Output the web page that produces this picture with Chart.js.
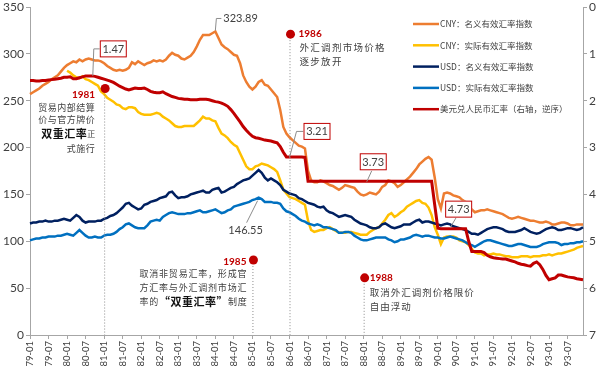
<!DOCTYPE html>
<html>
<head>
<meta charset="utf-8">
<script src="https://cdn.jsdelivr.net/npm/chart.js@4.4.1/dist/chart.umd.min.js"></script>
<style>
  html, body { margin: 0; padding: 0; background: #fff; }
</style>
</head>
<body>
<canvas id="fxChart" width="600" height="370"></canvas>
<script>
// months 1979-01 .. 1993-12, a tick label every 6 months
const months = [];
for (let yr = 79; yr <= 93; yr++) {
  for (let m = 1; m <= 12; m++) months.push(yr + "-" + String(m).padStart(2, "0"));
}
const tickEvery = 6;

const leftTicks = [0, 50, 100, 150, 200, 250, 300, 350];
const rightTicks = [0, 1, 2, 3, 4, 5, 6, 7];

// CNY nominal effective exchange rate index
const cnyNominal = [
  257,259,261,263,266,268,270,273,275,277,281,285,
  288,290,292,291,294,292,294,295,294,293,293,292,
  290,287,285,283,282,283,282,283,285,291,289,292,
  290,288,290,291,293,292,293,292,294,298,301,299,
  298,295,294,296,298,302,308,315,320,320,320,322,
  323.89,317,310,307,305,302,299,298,290,277,270,265,
  262,265,270,272,267,266,262,258,254,240,222,215,
  211,208,205,202,201,199,175,165,163,163,165,164,
  162,160,159,157,155,157,160,159,158,157,153,150,
  149,150,152,151,150,153,158,160,165,164,162,158,
  160,163,166,169,173,177,182,185,188,190,187,168,
  145,135,151,152,151,149,148,147,144,142,137,134,
  131,132,133,133,134,133,132,131,130,129,127,125,
  124,125,126,125,124,123,122,122,121,120,120,121,
  120,118,118,119,120,120,119,117,117,118,118,118
];

// CNY real effective exchange rate index (starts 1980)
const cnyReal = [
  null,null,null,null,null,null,null,null,null,null,null,null,
  282,280,277,275,274,276,273,272,270,268,266,260,
  257,253,251,249,246,245,242,241,243,243,242,238,
  236,235,235,235,236,237,236,233,231,229,226,223,
  222,222,223,223,223,223,226,229,233,231,231,229,
  228,221,215,213,210,206,203,201,194,187,180,177,
  177,180,181,183,182,181,179,177,174,165,155,151,
  147,146,145,143,141,139,122,112,110,111,112,112,
  114,115,113,111,109,109,109,110,110,109,108,107,
  107,107,110,112,114,115,119,123,128,130,126,128,
  131,133,137,139,141,143,144,141,140,136,128,115,
  107,97,104,105,105,105,104,101,100,99,96,92,
  88,87,87,85,86,86,87,86,86,85,84,84,
  83,83,83,84,84,84,83,84,84,84,85,85,
  86,85,86,87,87,88,89,90,91,93,94,95
];

// USD nominal effective exchange rate index
const usdNominal = [
  119,120,120,121,121,122,121,121,122,122,123,124,
  123,122,125,128,126,122,120,121,121,121,122,122,
  124,125,127,128,130,133,136,140,141,138,136,134,
  135,139,140,142,143,144,146,147,148,152,153,149,
  146,147,147,148,150,151,152,153,154,152,152,155,
  156,157,152,153,155,157,158,161,163,165,166,167,
  170,173,176,173,168,165,167,165,163,160,155,153,
  151,150,149,146,145,143,141,140,139,137,136,137,
  133,131,130,128,126,127,128,127,126,123,121,119,
  118,117,115,114,114,115,118,119,117,115,114,115,
  116,118,118,118,120,122,123,120,121,121,120,119,
  118,117,118,119,118,116,115,114,113,112,110,108,
  108,107,109,111,113,114,115,115,114,113,111,110,
  110,110,111,112,114,112,110,109,108,109,111,113,
  114,115,114,112,112,113,114,114,113,112,113,115
];

// USD real effective exchange rate index
const usdReal = [
  101,102,103,103,104,104,105,105,105,106,106,107,
  108,107,106,109,112,109,106,104,104,105,104,104,
  106,107,107,108,110,113,115,118,119,117,115,114,
  114,114,117,121,122,123,122,126,128,130,131,130,
  129,129,129,130,130,131,132,133,131,131,132,133,
  134,132,130,131,133,134,137,138,139,140,141,142,
  144,145,146.55,145,142,142,142,141,141,140,135,132,
  131,129,127,124,122,121,119,118,117,118,117,115,
  115,114,113,112,109,109,110,110,109,106,104,102,
  101,101,102,103,104,104,104,104,102,101,99,100,
  102,102,103,104,106,107,106,105,106,106,105,104,
  104,103,103,104,105,104,103,102,101,99,97,96,
  94,96,98,100,101,101,100,99,98,97,96,95,
  95,96,97,97,96,95,94,94,94,95,97,98,
  99,99,99,98,96,97,97,98,98,99,99,100
];

// USD/CNY (right axis, reversed)
const usdCny = [
  1.57,1.57,1.58,1.58,1.57,1.57,1.56,1.55,1.54,1.53,1.52,1.50,
  1.50,1.49,1.53,1.53,1.51,1.49,1.47,1.47,1.47,1.48,1.50,1.52,
  1.54,1.56,1.58,1.61,1.65,1.69,1.72,1.75,1.77,1.75,1.73,1.74,
  1.74,1.73,1.76,1.80,1.82,1.83,1.83,1.81,1.85,1.88,1.91,1.93,
  1.95,1.96,1.97,1.97,1.98,1.98,1.98,1.97,1.97,1.97,1.98,2.00,
  2.02,2.03,2.05,2.08,2.12,2.19,2.27,2.36,2.45,2.55,2.63,2.70,
  2.76,2.79,2.80,2.82,2.84,2.85,2.86,2.88,2.90,2.98,3.10,3.20,
  3.20,3.20,3.20,3.20,3.20,3.21,3.72,3.72,3.72,3.72,3.72,3.72,
  3.72,3.72,3.72,3.72,3.72,3.72,3.72,3.72,3.72,3.72,3.72,3.72,
  3.72,3.72,3.72,3.72,3.72,3.72,3.72,3.72,3.72,3.72,3.72,3.72,
  3.72,3.72,3.72,3.72,3.72,3.72,3.72,3.72,3.72,3.72,3.72,4.22,
  4.72,4.73,4.73,4.73,4.73,4.73,4.73,4.73,4.73,4.73,5.00,5.22,
  5.22,5.22,5.22,5.24,5.30,5.33,5.35,5.36,5.37,5.38,5.38,5.40,
  5.42,5.44,5.47,5.49,5.50,5.52,5.53,5.47,5.44,5.50,5.60,5.73,
  5.82,5.80,5.78,5.72,5.72,5.74,5.76,5.77,5.78,5.80,5.81,5.82
];

const seriesNames = [
  "CNY：名义有效汇率指数",
  "CNY：实际有效汇率指数",
  "USD：名义有效汇率指数",
  "USD：实际有效汇率指数",
  "美元兑人民币汇率（右轴，逆序）"
];
const seriesColors = ["#ED7D31", "#FFC000", "#002060", "#0070C0", "#C00000"];

const NUM_FONT = '"Lato", "Liberation Sans", sans-serif';
const CJK_FONT = '"Noto Sans CJK SC", sans-serif';
const TEXT_COLOR = "#404040";
const AXIS_COLOR = "#a6a6a6";

// draw a line of text made of several styled pieces
function drawRich(ctx, segs, x, y, align) {
  let total = 0;
  segs.forEach(s => {
    ctx.font = s.font;
    ctx.letterSpacing = s.sp || "0px";
    s.w = ctx.measureText(s.t).width;
    total += s.w;
  });
  let cx = align === "right" ? x - total : x;
  ctx.textAlign = "left";
  segs.forEach(s => {
    ctx.font = s.font;
    ctx.letterSpacing = s.sp || "0px";
    ctx.fillStyle = s.color || TEXT_COLOR;
    ctx.fillText(s.t, cx, y);
    cx += s.w;
  });
  ctx.letterSpacing = "0px";
}

const note = (t, size, sp) => ({ t, font: (size || 9) + "px " + CJK_FONT, sp: sp || "1px" });
const strong = (t, size) => ({ t, font: "bold " + (size || 11) + "px " + CJK_FONT, color: "#111", sp: "0.5px" });

const annotPlugin = {
  id: "annot",
  afterDatasetsDraw(chart) {
    const { ctx, chartArea, scales } = chart;
    const xs = scales.x, yl = scales.y, yr = scales.y1;
    const px = i => xs.getPixelForValue(i);
    ctx.save();
    ctx.textBaseline = "middle";

    // event markers: dot + dotted drop line
    const marker = (idx, val) => {
      const x = px(idx), y = yl.getPixelForValue(val);
      ctx.strokeStyle = "#8c8c8c";
      ctx.lineWidth = 1;
      ctx.setLineDash([1, 2]);
      ctx.beginPath();
      ctx.moveTo(x + 0.5, y);
      ctx.lineTo(x + 0.5, chartArea.bottom);
      ctx.stroke();
      ctx.setLineDash([]);
      ctx.fillStyle = "#C00000";
      ctx.beginPath();
      ctx.arc(x + 1, y, 4.5, 0, Math.PI * 2);
      ctx.fill();
      return { x, y };
    };
    const year = (t, x, y, align) => {
      ctx.font = "bold 10px " + NUM_FONT;
      ctx.fillStyle = "#C00000";
      ctx.textAlign = align;
      ctx.fillText(t, x, y);
    };

    // 1981
    let p = marker(24, 263);
    year("1981", p.x - 9, p.y + 6, "right");
    drawRich(ctx, [note("贸易内部结算", 9, "0.5px")], p.x - 9, p.y + 19, "right");
    drawRich(ctx, [note("价与官方牌价", 9, "0.5px")], p.x - 9, p.y + 31, "right");
    drawRich(ctx, [strong("双重汇率", 11), note("正", 8, "0px")], p.x - 9, p.y + 45, "right");
    drawRich(ctx, [note("式施行", 9, "0.5px")], p.x - 9, p.y + 60, "right");

    // 1986
    p = marker(84, 321);
    year("1986", p.x + 9, p.y, "left");
    drawRich(ctx, [note("外汇调剂市场价格", 9.5, "1.3px")], p.x + 10, p.y + 13, "left");
    drawRich(ctx, [note("逐步放开", 9.5, "1.3px")], p.x + 10, p.y + 27, "left");

    // 1985
    p = marker(72, 80);
    year("1985", p.x - 6, p.y + 2, "right");
    drawRich(ctx, [note("取消非贸易汇率，形成官", 9, "0.8px")], p.x - 113, p.y + 14, "left");
    drawRich(ctx, [note("方汇率与外汇调剂市场汇", 9, "0.8px")], p.x - 113, p.y + 28, "left");
    drawRich(ctx, [note("率的", 9, "0.8px"), strong("“双重汇率”", 11), note("制度", 9, "0.8px")], p.x - 113, p.y + 42, "left");

    // 1988
    p = marker(108, 61);
    year("1988", p.x + 6, p.y, "left");
    drawRich(ctx, [note("取消外汇调剂价格限价", 9.5, "1px")], p.x + 6, p.y + 15, "left");
    drawRich(ctx, [note("自由浮动", 9.5, "1px")], p.x + 6, p.y + 29, "left");

    // callouts
    ctx.strokeStyle = "#8c8c8c";
    ctx.lineWidth = 1;
    const lead = pts => {
      ctx.beginPath();
      ctx.moveTo(pts[0][0], pts[0][1]);
      pts.slice(1).forEach(q => ctx.lineTo(q[0], q[1]));
      ctx.stroke();
    };
    const box = (t, left, cy) => {
      const w = 27, h = 17;
      ctx.fillStyle = "#fff";
      ctx.fillRect(left, cy - h / 2, w, h);
      ctx.strokeStyle = "#C00000";
      ctx.strokeRect(left + 0.5, cy - h / 2 + 0.5, w - 1, h - 1);
      ctx.strokeStyle = "#8c8c8c";
      ctx.fillStyle = TEXT_COLOR;
      ctx.font = "11px " + NUM_FONT;
      ctx.textAlign = "center";
      ctx.fillText(t, left + w / 2, cy + 0.5);
    };
    const label = (t, x, y, align) => {
      ctx.fillStyle = TEXT_COLOR;
      ctx.font = "11px " + NUM_FONT;
      ctx.textAlign = align;
      ctx.fillText(t, x, y);
    };

    // 1.47 (lowest USD/CNY)
    let ax = px(20), ay = yr.getPixelForValue(usdCny[20]);
    lead([[ax + 1, ay], [ax + 2, ay - 27], [ax + 8, ay - 27]]);
    box(usdCny[20].toFixed(2), ax + 8, ay - 27);

    // 323.89 (CNY nominal peak)
    ax = px(60); ay = yl.getPixelForValue(cnyNominal[60]);
    lead([[ax, ay - 1], [ax + 1, ay - 13], [ax + 6, ay - 13]]);
    label(cnyNominal[60].toFixed(2), ax + 8, ay - 13, "left");

    // 146.55 (USD real peak)
    ax = px(74); ay = yl.getPixelForValue(usdReal[74]);
    lead([[ax - 1, ay + 3], [ax - 12, ay + 25]]);
    label(usdReal[74].toFixed(2), ax - 13, ay + 33, "center");

    // 3.21
    ax = px(84); ay = yr.getPixelForValue(usdCny[89]);
    lead([[ax, ay], [ax + 7, ay - 26], [ax + 14, ay - 26]]);
    box(usdCny[89].toFixed(2), ax + 14, ay - 26);

    // 3.73
    ax = px(109); ay = yr.getPixelForValue(3.73);
    lead([[ax, ay], [ax + 5, ay - 11]]);
    box("3.73", ax - 7, ay - 20);

    // 4.73
    ax = px(136); ay = yr.getPixelForValue(usdCny[136]);
    lead([[ax, ay - 1], [ax + 6, ay - 11]]);
    box(usdCny[136].toFixed(2), ax - 5, ay - 19.5);

    ctx.restore();
  },
  afterDraw(chart) {
    // legend block, top right
    const ctx = chart.ctx;
    ctx.save();
    ctx.textBaseline = "middle";
    chart.data.datasets.forEach((ds, k) => {
      const y = 24 + k * 21.3;
      ctx.strokeStyle = ds.borderColor;
      ctx.lineWidth = 2.5;
      ctx.beginPath();
      ctx.moveTo(413, y);
      ctx.lineTo(439, y);
      ctx.stroke();
      ctx.fillStyle = TEXT_COLOR;
      ctx.font = "8.5px " + CJK_FONT;
      ctx.textAlign = "left";
      ctx.fillText(ds.label, 440, y);
    });
    ctx.restore();
  }
};

const mk = (k, data, axis, width, order) => ({
  label: seriesNames[k],
  data: data,
  yAxisID: axis,
  borderColor: seriesColors[k],
  backgroundColor: seriesColors[k],
  borderWidth: width,
  pointRadius: 0,
  tension: 0,
  fill: false,
  order: order
});

// fix the vertical scales' outer padding so the plot spans y 7..335
const fitVertical = (width) => s => {
  s.width = width;
  s.paddingTop = 7;
  s.paddingBottom = 0;
};

new Chart(document.getElementById("fxChart"), {
  type: "line",
  data: {
    labels: months,
    datasets: [
      mk(0, cnyNominal, "y", 2.5, 2),
      mk(1, cnyReal, "y", 2.5, 2),
      mk(2, usdNominal, "y", 2.5, 1),
      mk(3, usdReal, "y", 2.5, 1),
      mk(4, usdCny, "y1", 3, 0)
    ]
  },
  options: {
    responsive: false,
    animation: false,
    devicePixelRatio: 1,
    layout: { padding: { top: 0, left: 0, right: 0, bottom: 0 } },
    plugins: { legend: { display: false }, tooltip: { enabled: false } },
    scales: {
      x: {
        type: "category",
        offset: false,
        grid: {
          drawOnChartArea: false,
          drawTicks: true,
          tickLength: 4,
          color: c => (c.index % tickEvery === 0 ? AXIS_COLOR : "rgba(0,0,0,0)")
        },
        border: { display: true, color: AXIS_COLOR },
        ticks: {
          autoSkip: false,
          maxRotation: 90,
          minRotation: 90,
          padding: 2,
          color: TEXT_COLOR,
          font: { family: NUM_FONT, size: 9.5 },
          callback: (v, i) => (i % tickEvery === 0 ? months[i] : "")
        },
        afterFit: s => { s.height = 35; s.paddingLeft = 0; s.paddingRight = 0; }
      },
      y: {
        position: "left",
        min: leftTicks[0],
        max: leftTicks[leftTicks.length - 1],
        grid: { drawOnChartArea: false, tickLength: 4, color: AXIS_COLOR },
        border: { display: true, color: AXIS_COLOR },
        ticks: {
          stepSize: 50,
          padding: 2,
          color: TEXT_COLOR,
          font: { family: NUM_FONT, size: 12 }
        },
        afterBuildTicks: s => { s.ticks = leftTicks.map(v => ({ value: v })); },
        afterFit: fitVertical(30)
      },
      y1: {
        position: "right",
        reverse: true,
        min: rightTicks[0],
        max: rightTicks[rightTicks.length - 1],
        grid: { drawOnChartArea: false, tickLength: 4, color: AXIS_COLOR },
        border: { display: true, color: AXIS_COLOR },
        ticks: {
          stepSize: 1,
          padding: 2,
          color: TEXT_COLOR,
          font: { family: NUM_FONT, size: 12 }
        },
        afterBuildTicks: s => { s.ticks = rightTicks.map(v => ({ value: v })); },
        afterFit: fitVertical(17)
      }
    }
  },
  plugins: [annotPlugin]
});
</script>
</body>
</html>
